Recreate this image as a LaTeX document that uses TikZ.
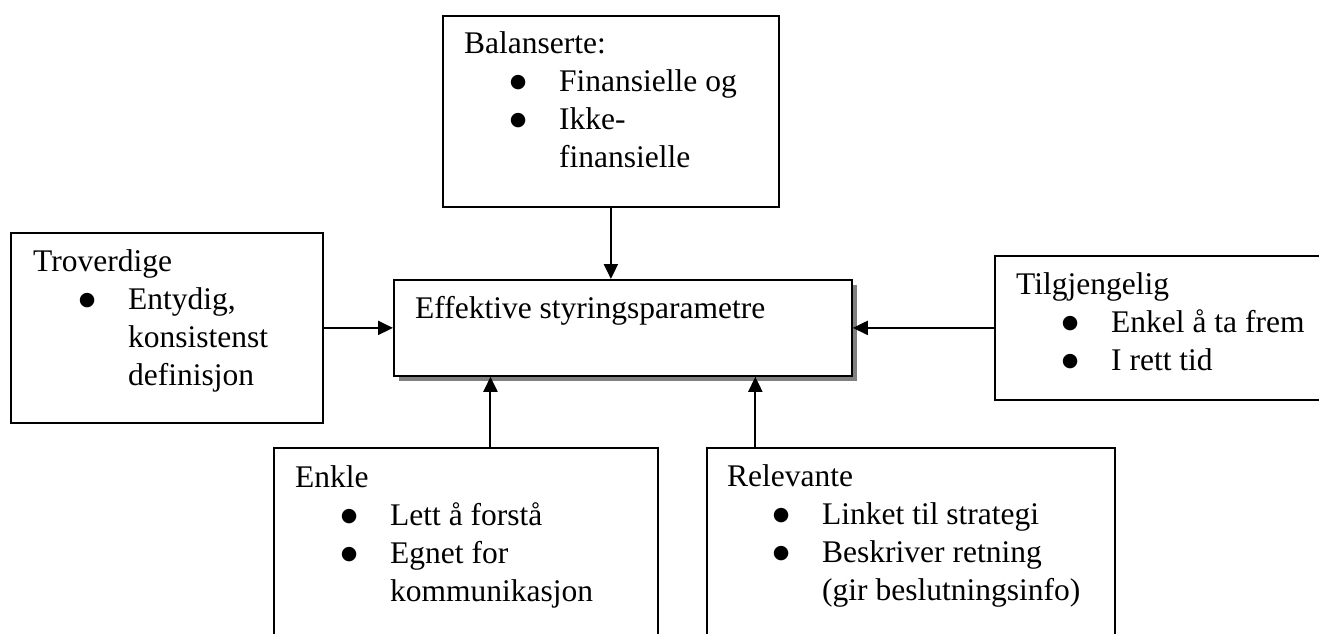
\documentclass[tikz,border=0pt]{standalone}
\usepackage{fontspec}
\setmainfont{Liberation Serif}
\newfontfamily\symfont{DejaVu Sans}
\usetikzlibrary{arrows.meta,shadows,calc}

% bullet line and follow-on line inside a box
\newcommand{\prikk}{\raisebox{4pt}{\symfont\fontsize{19}{19}\selectfont ●}}
\newcommand{\pkt}[1]{\hspace*{54pt}\makebox[0pt]{\prikk}\hspace*{41pt}#1}
\newcommand{\fort}[1]{\hspace*{95pt}#1}

\begin{document}
\begin{tikzpicture}[x=1pt, y=-1pt,
	boks/.style={draw, line width=1.8pt, rectangle, anchor=north west, inner sep=0pt},
	tekst/.style={anchor=base west, inner sep=0pt, font=\fontsize{31.5}{38}\selectfont},
	pil/.style={line width=2pt, -{Triangle[length=15pt,width=14pt]}}]
\useasboundingbox (0,0) rectangle (1319,634);
\clip (0,0) rectangle (1319,634);

\node[boks, minimum width=336pt, minimum height=191pt] (bal) at (442, 15) {};
\node[boks, minimum width=312pt, minimum height=190pt] (trov) at (10, 232) {};
\node[boks, minimum width=458pt, minimum height=96pt, fill=white,
	drop shadow={shadow xshift=5pt, shadow yshift=-5pt, fill=black!50, opacity=1}] (eff) at (393, 279) {};
\node[boks, minimum width=360pt, minimum height=144pt] (tilg) at (994, 255) {};
\node[boks, minimum width=384pt, minimum height=220pt] (enk) at (273, 447) {};
\node[boks, minimum width=408pt, minimum height=220pt] (rel) at (706, 447) {};

\node[tekst] (baltxt) at (464, 54) {\begin{tabular}[t]{@{}l@{}}
	Balanserte:\\ \pkt{Finansielle og}\\ \pkt{Ikke-}\\ \fort{finansielle}\end{tabular}};
\node[tekst] (trovtxt) at (33, 271) {\begin{tabular}[t]{@{}l@{}}
	Troverdige\\ \pkt{Entydig,}\\ \fort{konsistenst}\\ \fort{definisjon}\end{tabular}};
\node[tekst] (efftxt) at (415, 318) {Effektive styringsparametre};
\node[tekst] (tilgtxt) at (1016, 294) {\begin{tabular}[t]{@{}l@{}}
	Tilgjengelig\\ \pkt{Enkel å ta frem}\\ \pkt{I rett tid}\end{tabular}};
\node[tekst] (enktxt) at (295, 487) {\begin{tabular}[t]{@{}l@{}}
	Enkle\\ \pkt{Lett å forstå}\\ \pkt{Egnet for}\\ \fort{kommunikasjon}\end{tabular}};
\node[tekst] (reltxt) at (727, 486) {\begin{tabular}[t]{@{}l@{}}
	Relevante\\ \pkt{Linket til strategi}\\ \pkt{Beskriver retning}\\ \fort{(gir beslutningsinfo)}\end{tabular}};

\coordinate (innE) at ($(eff.south west)!0.212!(eff.south east)$);
\coordinate (innR) at ($(eff.south west)!0.788!(eff.south east)$);

\draw[pil] (bal.south) -- (bal.south |- eff.north);
\draw[pil] (trov.east) -- (eff.west);
\draw[pil] (tilg.west) -- (eff.east);
\draw[pil] (innE |- enk.north) -- (innE);
\draw[pil] (innR |- rel.north) -- (innR);
\end{tikzpicture}
\end{document}
